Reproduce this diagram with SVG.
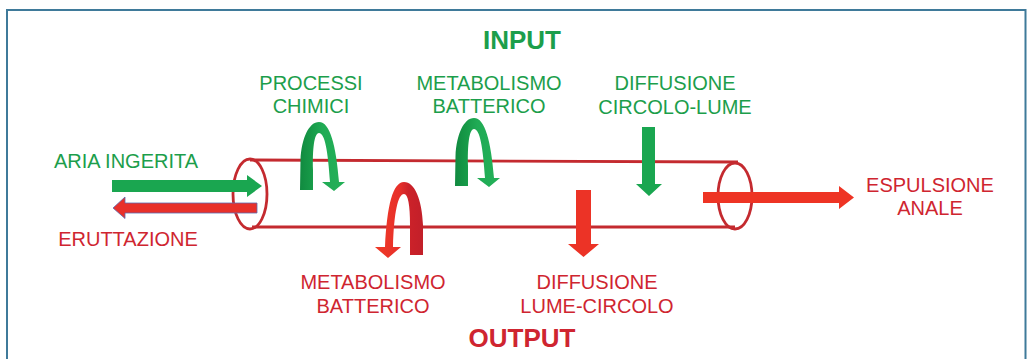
<svg xmlns="http://www.w3.org/2000/svg" width="1027" height="359" viewBox="0 0 1027 359">
<defs>
<style>
.t{font-family:"Liberation Sans",Arial,sans-serif;font-size:20px;text-anchor:middle}
.g{fill:#1c9e4b}
.r{fill:#cf2530}
.h{font-size:26px;font-weight:bold}
.tube{fill:none;stroke:#c42a2f;stroke-width:2.8}
</style>
<linearGradient id="gg" x1="0" y1="0" x2="1" y2="0">
<stop offset="0" stop-color="#118a40"/>
<stop offset="0.25" stop-color="#179a48"/>
<stop offset="0.5" stop-color="#20ab55"/>
<stop offset="1" stop-color="#24b058"/>
</linearGradient>
<linearGradient id="rg" x1="0" y1="0" x2="1" y2="0">
<stop offset="0" stop-color="#ef3a26"/>
<stop offset="0.5" stop-color="#e8302a"/>
<stop offset="0.7" stop-color="#cc2229"/>
<stop offset="1" stop-color="#c21f29"/>
</linearGradient>
<path id="arch" d="M300,190 L300.5,160 C301.5,138 309,122 319,122 C330,122 336,145 339,182 L345,182 L334,191 L322,182 L330,182 C328,152 325,133 319,133 C314,133 312.5,150 313,170 L313,190 Z"/>
</defs>
<g id="frame">
<path d="M7,359 V10 H1025.5 V359" fill="none" stroke="#3f7a9a" stroke-width="2"/>
</g>
<g id="tube">
<line class="tube" x1="250" y1="160" x2="738" y2="162"/>
<line class="tube" x1="252" y1="227" x2="735" y2="227"/>
<ellipse class="tube" cx="250" cy="194" rx="17" ry="35"/>
<ellipse class="tube" cx="735" cy="196" rx="17" ry="33"/>
</g>
<g id="connectors">
<path id="arrow-aria" d="M112,180 H247 V175 L262,186 L247,197 V192 H112 Z" fill="#1aa650"/>
<path id="arrow-eruttazione" d="M257,203 H125 V197 L113,208 L125,218.5 V213 H257 Z" fill="#e8302a" stroke="#5a6ab0" stroke-width="0.8"/>
<use id="arrow-processi" href="#arch" fill="url(#gg)"/>
<use id="arrow-metab-in" href="#arch" fill="url(#gg)" transform="translate(155,-4)"/>
<path id="arrow-metab-out" d="M423,255 L423,225 C422,200 415,182 404,182 C393,182 387,205 385,247 L375,247 L388,258 L401,247 L393,247 C394,212 398,194 404,194 C408,194 410,205 410,225 L410,255 Z" fill="url(#rg)"/>
<path id="arrow-diff-in" d="M642,127 H655 V184 H662 L649,196 L636,184 H642 Z" fill="#1aa650"/>
<path id="arrow-diff-out" d="M576,190 H591 V244 H599 L583.5,257 L568,244 H576 Z" fill="#ec3326"/>
<path id="arrow-espulsione" d="M703,192 H839 V186 L854,197.5 L839,209 V203 H703 Z" fill="#ee3424"/>
</g>
<g id="input"><text class="t g h" x="522" y="49">INPUT</text></g>
<g id="output"><text class="t r h" x="522" y="347">OUTPUT</text></g>
<g id="aria-ingerita"><text class="t g" x="126" y="168">ARIA INGERITA</text></g>
<g id="eruttazione"><text class="t r" x="128" y="246">ERUTTAZIONE</text></g>
<g id="processi-chimici"><text class="t g" x="311" y="90">PROCESSI</text><text class="t g" x="311" y="113">CHIMICI</text></g>
<g id="metabolismo-in"><text class="t g" x="489" y="90">METABOLISMO</text><text class="t g" x="489" y="113">BATTERICO</text></g>
<g id="diffusione-in"><text class="t g" x="675" y="90">DIFFUSIONE</text><text class="t g" x="675" y="114">CIRCOLO-LUME</text></g>
<g id="metabolismo-out"><text class="t r" x="373" y="289">METABOLISMO</text><text class="t r" x="373" y="313">BATTERICO</text></g>
<g id="diffusione-out"><text class="t r" x="597" y="289">DIFFUSIONE</text><text class="t r" x="597" y="313">LUME-CIRCOLO</text></g>
<g id="espulsione"><text class="t r" x="930" y="192">ESPULSIONE</text><text class="t r" x="930" y="215">ANALE</text></g>
</svg>
